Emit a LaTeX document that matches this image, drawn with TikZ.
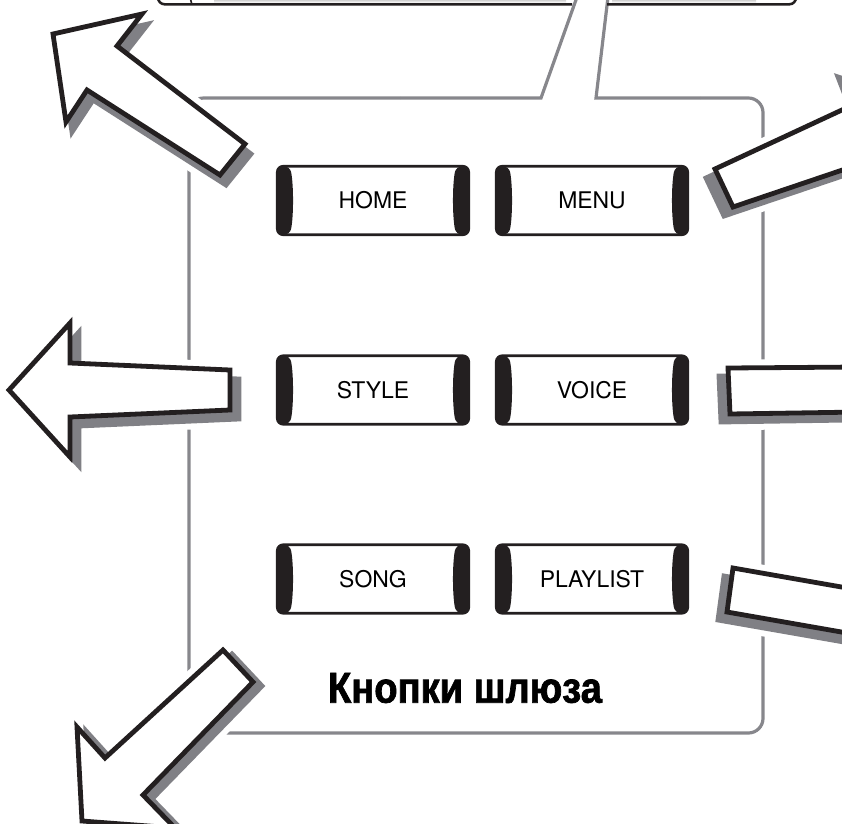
\documentclass[tikz,border=0pt]{standalone}
\usepackage{fontspec}
\newfontfamily\btnfont{TeX Gyre Heros}
\newfontfamily\capfont{Liberation Sans}[FakeStretch=0.88,FakeBold=1.6]
\definecolor{ink}{RGB}{35,31,32}
\definecolor{shade}{RGB}{128,128,133}
\definecolor{frame}{RGB}{135,135,140}
\newcommand\shadedarrow[2]{%
  \draw[halo] #2 -- cycle;
  \draw[halo,shift={#1}] #2 -- cycle;
  \filldraw[arrowshadow,shift={#1}] #2 -- cycle;
  \filldraw[arrowbody] #2 -- cycle;}
\begin{document}
\begin{tikzpicture}[x=0.75pt,y=-0.75pt,
  frameline/.style={draw=frame,line width=2.4pt,rounded corners=11pt},
  halo/.style={draw=white,line width=12.6pt,line join=round},
  arrowshadow/.style={fill=shade,draw=shade,line width=3.6pt,line join=miter},
  arrowbody/.style={fill=white,draw=ink,line width=3.6pt,line join=miter},
  stripline/.style={draw=ink,line width=1.9pt,rounded corners=5pt},
  keybtn/.style={draw=ink,line width=2pt,rounded corners=4.5pt,
    minimum width=143.6pt,minimum height=51.4pt,inner sep=0pt,
    font=\btnfont\fontsize{17.2}{20}\selectfont,
    path picture={
      \fill[ink] (path picture bounding box.north west)
        -- ([xshift=9.5pt]path picture bounding box.north west)
        .. controls ([xshift=12.3pt,yshift=-14pt]path picture bounding box.north west)
        and ([xshift=12.3pt,yshift=14pt]path picture bounding box.south west)
        .. ([xshift=9.5pt]path picture bounding box.south west)
        -- (path picture bounding box.south west) -- cycle;
      \fill[ink] (path picture bounding box.north east)
        -- ([xshift=-9.5pt]path picture bounding box.north east)
        .. controls ([xshift=-12.3pt,yshift=-14pt]path picture bounding box.north east)
        and ([xshift=-12.3pt,yshift=14pt]path picture bounding box.south east)
        .. ([xshift=-9.5pt]path picture bounding box.south east)
        -- (path picture bounding box.south east) -- cycle;}},
  captext/.style={font=\capfont\bfseries\fontsize{32.5}{38}\selectfont,inner sep=0pt}]
\useasboundingbox (0,0) rectangle (842,824);
\clip (0,0) rectangle (842,824);

% frame with callout
\draw[frameline,sharp corners] (577,-3) -- (541,98) -- (400,98);
\draw[frameline] (400,98) -- (189,98) -- (189,733) -- (763,733) -- (763,98) -- (700,98);
\draw[frameline,sharp corners] (700,98) -- (596,98) -- (608,-3);

% top strip
\fill[shade] (214,-5) rectangle (566,2.8);
\fill[shade] (612,-5) rectangle (756,2.8);
\draw[stripline] (572,4.3) -- (158,4.3) -- (158,-15);
\draw[stripline] (607,4.3) -- (796,4.3) -- (796,-15);
\draw[ink,line width=1.2pt] (190.5,-1) -- (191.5,3);

% arrows
\shadedarrow{(6,10)}{(53,34) -- (142,14) -- (117,46) -- (245,144) -- (220,175) -- (87,90) -- (66,122)}
\shadedarrow{(9,9)}{(9,390) -- (70,323) -- (70,363) -- (230,370) -- (230,410) -- (70,417) -- (70,457)}
\shadedarrow{(9,4)}{(223,650) -- (253,682) -- (143,795) -- (175,828) -- (82,821) -- (77,727) -- (105,758)}
\shadedarrow{(-9,9)}{(715,169) -- (860,101.6) -- (847,68) -- (930,95) -- (895,200) -- (875,159) -- (733,207)}
\shadedarrow{(-9,8)}{(728,368) -- (860,367) -- (860,330) -- (920,390) -- (860,450) -- (860,412) -- (730,414)}
\shadedarrow{(-9,8)}{(733,568) -- (870,592) -- (875,555) -- (940,615) -- (865,680) -- (870,637) -- (727,612)}

% buttons
\node[keybtn] (home) at (373,200.5) {HOME};
\node[keybtn] (menu) at (592,200.5) {MENU};
\node[keybtn] (style) at (373,390) {STYLE};
\node[keybtn] (voice) at (592,390) {VOICE};
\node[keybtn] (song) at (373,579) {SONG};
\node[keybtn] (playlist) at (592,579) {PLAYLIST};

% caption
\node[captext] (gatecap) at (465,688) {Кнопки шлюза};
\end{tikzpicture}
\end{document}
